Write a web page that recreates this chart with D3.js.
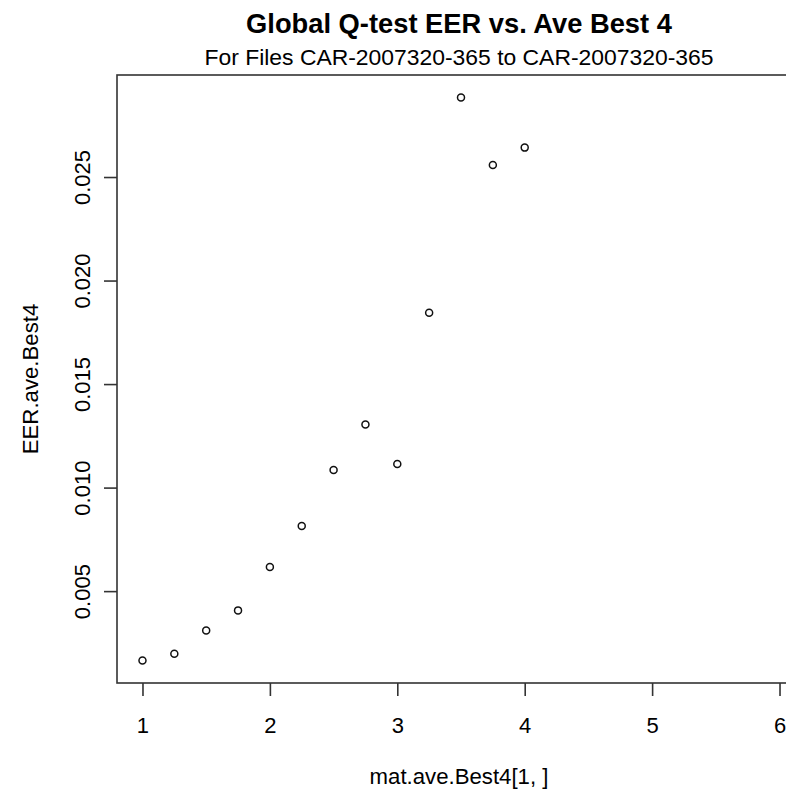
<!DOCTYPE html>
<html>
<head>
<meta charset="utf-8">
<script src="https://cdn.jsdelivr.net/npm/d3@7"></script>
<style>
  html, body { margin: 0; padding: 0; background: #fff; }
  svg { display: block; font-family: "Liberation Sans", Arial, sans-serif; }
</style>
</head>
<body>
<svg id="chart" width="786" height="791"></svg>
<script>
// ---- data ----
const xValues = [1, 1.25, 1.5, 1.75, 2, 2.25, 2.5, 2.75, 3, 3.25, 3.5, 3.75, 4];
const yValues = [0.00165, 0.00198, 0.00310, 0.00407, 0.00616, 0.00814, 0.01085, 0.01305, 0.01114, 0.01845, 0.02884, 0.02558, 0.02642];
const xLimits = [1, 6];
const xTicks = [1, 2, 3, 4, 5, 6];
const yTicks = [0.005, 0.010, 0.015, 0.020, 0.025];
const yTickLabels = ["0.005", "0.010", "0.015", "0.020", "0.025"];
const titleText = "Global Q-test EER vs. Ave Best 4";
const subtitleText = "For Files CAR-2007320-365 to CAR-2007320-365";
const xLabel = "mat.ave.Best4[1, ]";
const yLabel = "EER.ave.Best4";

// ---- layout ----
const plot = { left: 117, top: 75, right: 805, bottom: 683 };
const pad = (lo, hi) => { const r = hi - lo; return [lo - 0.04 * r, hi + 0.04 * r]; };

const x = d3.scaleLinear().domain(pad(xLimits[0], xLimits[1])).range([plot.left, plot.right]);
const y = d3.scaleLinear().domain(pad(d3.min(yValues), d3.max(yValues))).range([plot.bottom, plot.top]);

const svg = d3.select("#chart");
const lineColor = "#333";

// box
svg.append("rect")
  .attr("x", plot.left).attr("y", plot.top)
  .attr("width", plot.right - plot.left).attr("height", plot.bottom - plot.top)
  .attr("fill", "none").attr("stroke", lineColor).attr("stroke-width", 1.6);

// x axis
const xAxis = d3.axisBottom(x).tickValues(xTicks).tickSize(13).tickFormat(d3.format("d"));
const gx = svg.append("g").attr("transform", `translate(0,${plot.bottom})`).call(xAxis);
gx.select(".domain").remove();
gx.selectAll(".tick line").attr("stroke", lineColor).attr("stroke-width", 1.6);
gx.selectAll(".tick text").attr("fill", "#000").attr("font-size", 22)
  .attr("font-family", "Liberation Sans, Arial, sans-serif").attr("dy", null).attr("y", 50);

// y axis
const yAxis = d3.axisLeft(y).tickValues(yTicks).tickSize(13).tickFormat((d, i) => yTickLabels[i]);
const gy = svg.append("g").attr("transform", `translate(${plot.left},0)`).call(yAxis);
gy.select(".domain").remove();
gy.selectAll(".tick line").attr("stroke", lineColor).attr("stroke-width", 1.6);
gy.selectAll(".tick text")
  .attr("fill", "#000").attr("font-size", 22).attr("font-family", "Liberation Sans, Arial, sans-serif")
  .attr("x", null).attr("dy", null)
  .attr("text-anchor", "middle")
  .attr("transform", "translate(-27,0) rotate(-90)");

// points
svg.append("g").selectAll("circle")
  .data(xValues.map((v, i) => [v, yValues[i]]))
  .join("circle")
  .attr("cx", d => x(d[0])).attr("cy", d => y(d[1]))
  .attr("r", 3.5)
  .attr("fill", "none").attr("stroke", "#111").attr("stroke-width", 1.5);

const cx = (plot.left + plot.right) / 2;
const cy = (plot.top + plot.bottom) / 2;

// titles
svg.append("text").attr("x", cx - 2).attr("y", 33).attr("text-anchor", "middle")
  .attr("font-size", 27.3).attr("font-weight", "bold").attr("fill", "#000").text(titleText);
svg.append("text").attr("x", cx - 2).attr("y", 65).attr("text-anchor", "middle")
  .attr("font-size", 22.9).attr("fill", "#000").text(subtitleText);

// axis labels
svg.append("text").attr("x", cx - 2).attr("y", 784).attr("text-anchor", "middle")
  .attr("font-size", 22.2).attr("fill", "#000").text(xLabel);
svg.append("text").attr("transform", `translate(38,${cy}) rotate(-90)`).attr("text-anchor", "middle")
  .attr("font-size", 22.2).attr("fill", "#000").text(yLabel);
</script>
</body>
</html>
